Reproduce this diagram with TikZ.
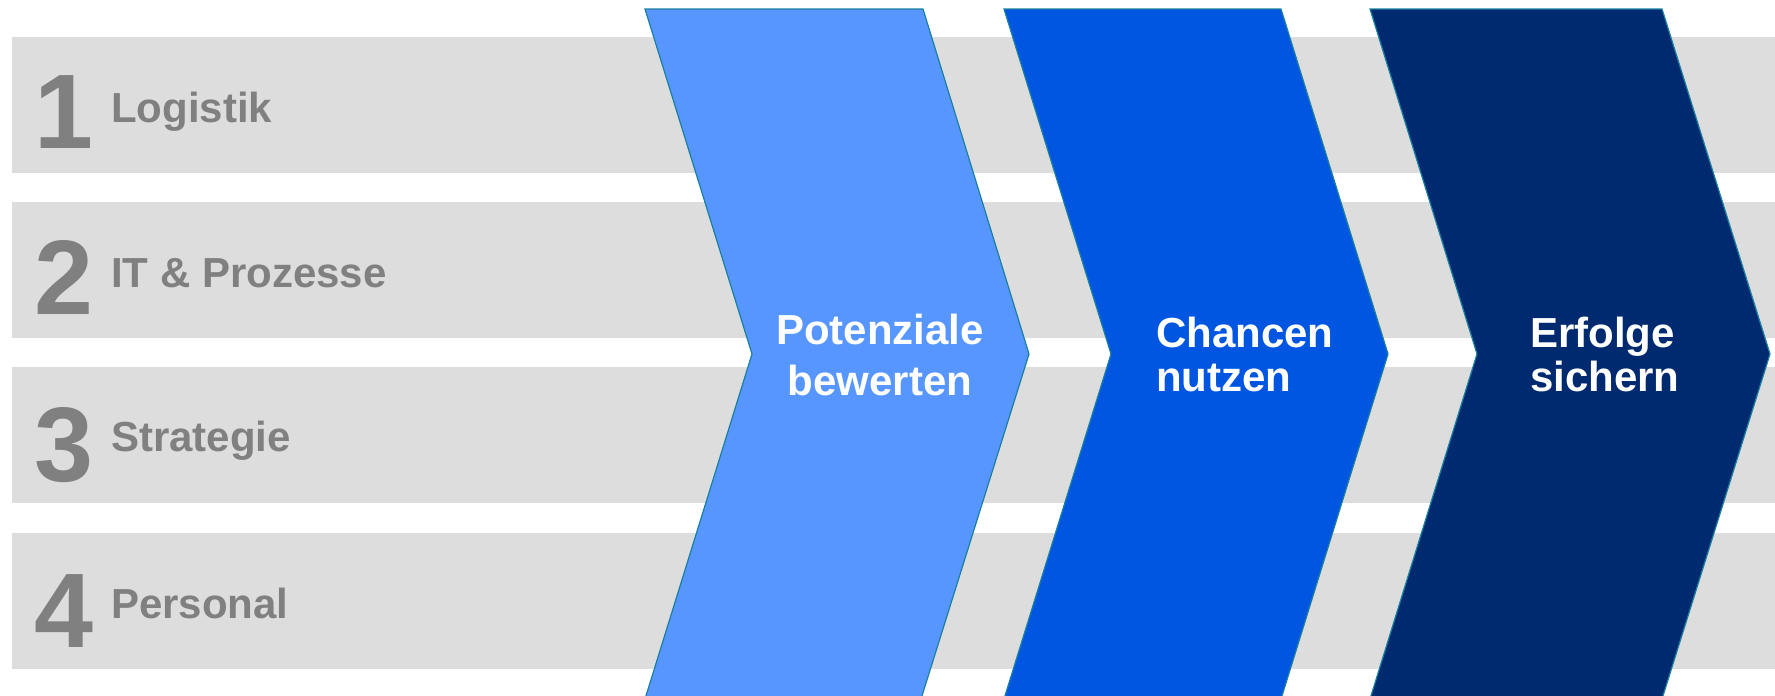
\documentclass[tikz,border=0pt]{standalone}
\usepackage{fontspec}
\setmainfont{Liberation Sans}
\definecolor{bandgray}{HTML}{DDDDDD}
\definecolor{labgray}{HTML}{808080}
\definecolor{cvA}{HTML}{5795FF}
\definecolor{cvB}{HTML}{0056E1}
\definecolor{cvC}{HTML}{002A70}
\definecolor{cvEdge}{HTML}{1A80A0}
\tikzset{
  band/.style={fill=bandgray, draw=none},
  chev/.style={draw=cvEdge, line width=1.2pt, line join=miter},
  numtxt/.style={anchor=base west, inner sep=0pt, text=labgray, font=\fontsize{106}{106}\selectfont\bfseries},
  labtxt/.style={anchor=base west, inner sep=0pt, text=labgray, font=\fontsize{42}{42}\selectfont\bfseries},
  chevtxt/.style={inner sep=0pt, text=white, font=\fontsize{42}{42}\selectfont\bfseries}
}
\begin{document}
\begin{tikzpicture}[x=1pt, y=-1pt]
\useasboundingbox (0,0) rectangle (1775,696);
\clip (0,0) rectangle (1775,696);
% bands
\fill[band] (12,37) rectangle (1775,173);
\fill[band] (12,202) rectangle (1775,338);
\fill[band] (12,367) rectangle (1775,503);
\fill[band] (12,533) rectangle (1775,669);
% numbers and labels
\node[numtxt] (n1) at (34,148) {1};
\node[numtxt] (n2) at (34,314) {2};
\node[numtxt] (n3) at (34,481) {3};
\node[numtxt] (n4) at (34,647) {4};
\node[labtxt] (l1) at (111,122) {Logistik};
\node[labtxt] (l2) at (111,287) {IT \& Prozesse};
\node[labtxt] (l3) at (111,451) {Strategie};
\node[labtxt] (l4) at (111,618) {Personal};
% chevrons
\draw[chev, fill=cvA] (645,9) -- (923,9) -- (1029,354) -- (921,699) -- (645,699) -- (752,354) -- cycle;
\draw[chev, fill=cvB] (1004,9) -- (1281,9) -- (1388,354) -- (1281,699) -- (1004,699) -- (1111,354) -- cycle;
\draw[chev, fill=cvC] (1370,9) -- (1662,9) -- (1770,354) -- (1662,699) -- (1370,699) -- (1477,354) -- cycle;
% chevron texts
\node[chevtxt, anchor=base] (t1a) at (880,344) {Potenziale};
\node[chevtxt, anchor=base] (t1b) at (880,395) {bewerten};
\node[chevtxt, anchor=base west] (t2a) at (1156,347) {Chancen};
\node[chevtxt, anchor=base west] (t2b) at (1156,391) {nutzen};
\node[chevtxt, anchor=base west] (t3a) at (1530,347) {Erfolge};
\node[chevtxt, anchor=base west] (t3b) at (1530,391) {sichern};
\end{tikzpicture}
\end{document}
